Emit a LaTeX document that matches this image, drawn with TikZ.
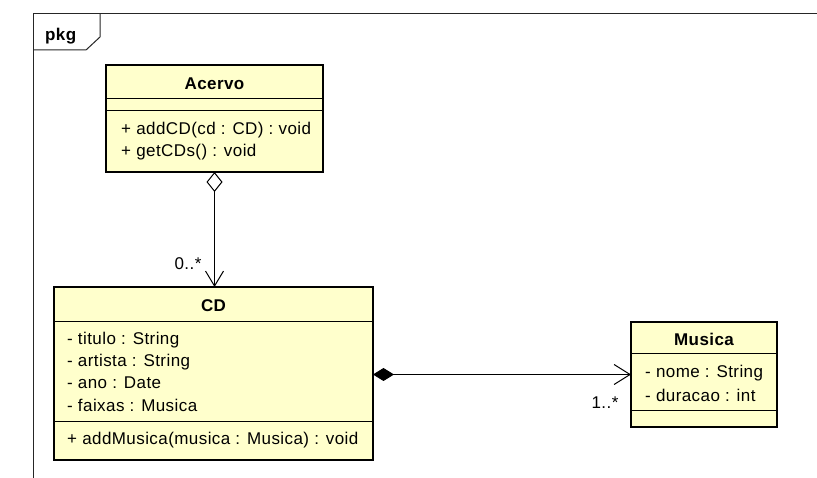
\documentclass[tikz,border=0pt]{standalone}
\usepackage{fontspec}
\setmainfont{Liberation Sans}[LetterSpace=2.5]
\usetikzlibrary{arrows.meta}
\definecolor{classfill}{RGB}{255,255,204}
\begin{document}
\begin{tikzpicture}[x=1pt,y=-1pt,
  classbox/.style={draw=black,line width=2.6pt,fill=classfill,rectangle,inner sep=0pt,outer sep=0pt,anchor=north west},
  sepline/.style={line width=1pt},
  txt/.style={inner sep=0pt,anchor=west,font=\fontsize{17}{19}\selectfont},
  ttl/.style={inner sep=0pt,font=\fontsize{17}{19}\selectfont\bfseries},
  conn/.style={line width=1pt},
  frameline/.style={line width=1pt,draw=black!85}]
\useasboundingbox (0,0) rectangle (817,478);
% frame
\draw[frameline] (817,14) -- (33,14) -- (33,478);
\draw[frameline] (100,14) -- (100,37) -- (86,50) -- (33,50);
\node[ttl,anchor=west] (pkg) at (45,36) {pkg};
% Acervo
\node[classbox,minimum width=217pt,minimum height=107pt] (acervo) at (106,65) {};
\node[ttl] (acervoT) at (214.5,84) {Acervo};
\draw[sepline] (acervo.west |- 0,99) -- (acervo.east |- 0,99);
\draw[sepline] (acervo.west |- 0,111) -- (acervo.east |- 0,111);
\node[txt] (acervoM1) at (121,130) {+ addCD(cd : CD) : void};
\node[txt] (acervoM2) at (121,152) {+ getCDs() : void};
% CD
\node[classbox,minimum width=319pt,minimum height=173pt] (cd) at (54,287) {};
\node[ttl] (cdT) at (213.5,306) {CD};
\draw[sepline] (cd.west |- 0,322) -- (cd.east |- 0,322);
\node[txt] (cdA1) at (67,340) {- titulo : String};
\node[txt] (cdA2) at (67,362) {- artista : String};
\node[txt] (cdA3) at (67,383) {- ano : Date};
\node[txt] (cdA4) at (67,405) {- faixas : Musica};
\draw[sepline] (cd.west |- 0,421) -- (cd.east |- 0,421);
\node[txt] (cdM1) at (67,440) {+ addMusica(musica : Musica) : void};
% Musica
\node[classbox,minimum width=146pt,minimum height=105pt] (musica) at (631,322) {};
\node[ttl] (musicaT) at (704,339) {Musica};
\draw[sepline] (musica.west |- 0,354) -- (musica.east |- 0,354);
\node[txt] (musicaA1) at (645,373) {- nome : String};
\node[txt] (musicaA2) at (645,395) {- duracao : int};
\draw[sepline] (musica.west |- 0,410) -- (musica.east |- 0,410);
% connectors
\draw[conn,{Diamond[open,length=20pt,width=16pt,line width=1pt]}-{Straight Barb[length=15pt,width=18pt,line width=1pt]}]
  (acervo.south) -- (acervo.south |- cd.north);
\node[txt,anchor=center] (mult1) at (188,264) {0..*};
\draw[conn,{Diamond[length=21pt,width=13pt]}-{Straight Barb[length=16pt,width=20pt,line width=1pt]}]
  (cd.east |- musica.west) -- (musica.west);
\node[txt,anchor=center] (mult2) at (605,403) {1..*};
\end{tikzpicture}
\end{document}
